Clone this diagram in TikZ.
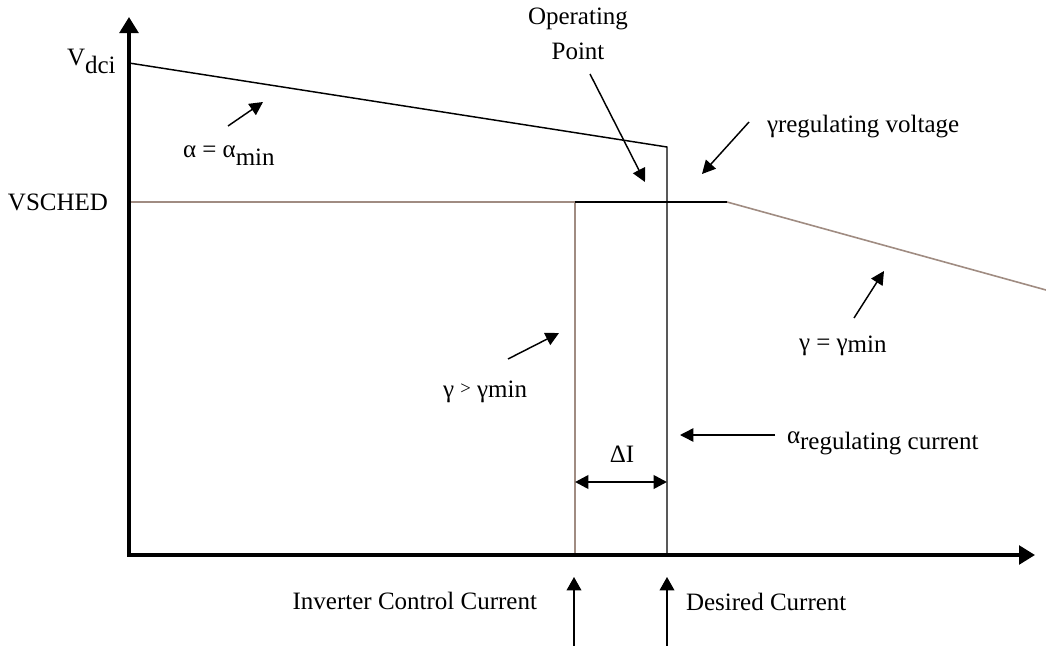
\documentclass[tikz,border=0pt]{standalone}
\usepackage{fontspec}
\setmainfont{Liberation Serif}
\usetikzlibrary{arrows.meta}
\definecolor{curvebrown}{RGB}{160,140,130}
\begin{document}
\begin{tikzpicture}[x=0.75pt,y=-0.75pt,
  every node/.style={inner sep=0pt,outer sep=0pt,font=\fontsize{18.75}{26}\selectfont},
  axis/.style={line width=2.6pt,line cap=rect,{Triangle[length=12pt,width=14pt]}-{Triangle[length=12pt,width=14pt]}},
  thinline/.style={line width=1.1pt,black},
  brownline/.style={line width=1.2pt,curvebrown},
  pointer/.style={line width=1.1pt,-{Triangle[length=10pt,width=10pt]}},
  tick/.style={line width=1.1pt,-{Triangle[length=10pt,width=11pt]}},
  delta/.style={line width=2pt,{Triangle[length=10pt,width=10pt]}-{Triangle[length=10pt,width=10pt]}}]
\useasboundingbox (0,0) rectangle (1046,646);

% axes
\coordinate (ytop) at (129,17);
\coordinate (orig) at (129,555);
\coordinate (xend) at (1035,555);

% characteristic corners
\coordinate (vdci) at (129,63);
\coordinate (kneeA) at (667,147);
\coordinate (desA) at (667,555);
\coordinate (vs0) at (129,202);
\coordinate (vs1) at (575,202);
\coordinate (vs2) at (727,202);
\coordinate (gend) at (1046,290);
\coordinate (invA) at (575,555);

% current characteristic lines
\draw[thinline] (vdci) -- (kneeA) -- (desA);
\draw[brownline] (vs0) -- (vs1) -- (invA);
\draw[brownline] (vs2) -- (gend);
\draw[line width=2.2pt] (vs1) -- (vs2);

\draw[axis] (ytop) -- (orig) -- (xend);

% labels
\node[anchor=base west] (lvdci) at (67,65) {V\raisebox{-6pt}{dci}};
\node[anchor=base east] (lvsched) at (108,210) {VSCHED};
\node[anchor=base west] (lamin) at (183,157) {α = α\raisebox{-6pt}{min}};
\node[anchor=north,align=center] (lop) at (578,8) {Operating\\Point};
\node[anchor=base west] (lgreg) at (767,132) {γregulating voltage};
\node[anchor=base west] (lareg) at (787,443) {α\raisebox{-5pt}{regulating current}};
\node[anchor=base west] (lgmin) at (799,350) {γ = γ\raisebox{-1.5pt}{min}};
\node[anchor=base west] (lggt) at (443,397) {γ \raisebox{2pt}{\fontsize{14}{16}\selectfont >} γmin};
\node[anchor=base] (ldi) at (622,462) {ΔI};
\node[anchor=base east] (linv) at (537,609) {Inverter Control Current};
\node[anchor=base west] (ldes) at (686,610) {Desired Current};

% pointers
\coordinate (pa0) at (228,126);  \coordinate (pa1) at (263,102);
\coordinate (po0) at (590,74);   \coordinate (po1) at (645,182);
\coordinate (pg0) at (749,122);  \coordinate (pg1) at (702,174);
\coordinate (pm0) at (854,318);  \coordinate (pm1) at (884,271);
\coordinate (pt0) at (508,359);  \coordinate (pt1) at (559,333);
\coordinate (pr0) at (775,435);  \coordinate (pr1) at (680,435);
\draw[pointer] (pa0) -- (pa1);
\draw[pointer] (po0) -- (po1);
\draw[pointer] (pg0) -- (pg1);
\draw[pointer] (pm0) -- (pm1);
\draw[pointer] (pt0) -- (pt1);
\draw[pointer] (pr0) -- (pr1);

% current span
\coordinate (d0) at (575,482);
\coordinate (d1) at (667,482);
\draw[delta] (d0) -- (d1);

% markers below the current axis
\coordinate (ti0) at (574,646); \coordinate (ti1) at (574,577);
\coordinate (td0) at (667,646); \coordinate (td1) at (667,577);
\draw[tick] (ti0) -- (ti1);
\draw[tick] (td0) -- (td1);
\end{tikzpicture}
\end{document}
